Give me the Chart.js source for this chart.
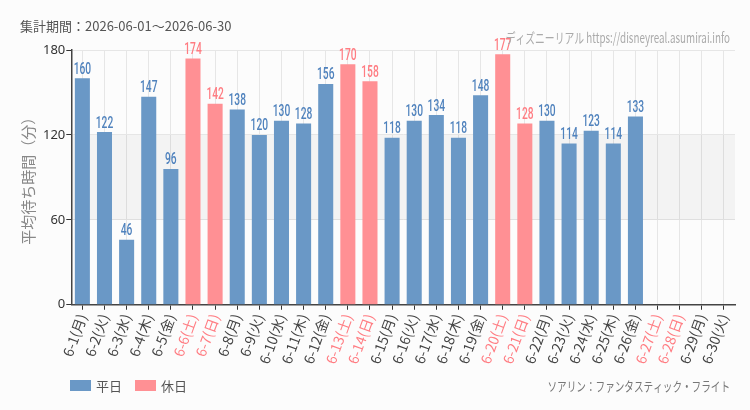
<!DOCTYPE html>
<html>
<head>
<meta charset="utf-8">
<script src="https://cdn.jsdelivr.net/npm/chart.js@4"></script>
<style>
  html, body { margin: 0; padding: 0; background: #fcfcfc; }
  #wrap { width: 750px; height: 410px; }
</style>
</head>
<body>
<div id="wrap"><canvas id="chart"></canvas></div>
<script>
// ラベルとデータ
const days = ['6-1(月)', '6-2(火)', '6-3(水)', '6-4(木)', '6-5(金)', '6-6(土)', '6-7(日)',
  '6-8(月)', '6-9(火)', '6-10(水)', '6-11(木)', '6-12(金)', '6-13(土)', '6-14(日)',
  '6-15(月)', '6-16(火)', '6-17(水)', '6-18(木)', '6-19(金)', '6-20(土)', '6-21(日)',
  '6-22(月)', '6-23(火)', '6-24(水)', '6-25(木)', '6-26(金)', '6-27(土)', '6-28(日)',
  '6-29(月)', '6-30(火)'];
const holidays = [5, 6, 12, 13, 19, 20, 26, 27]; // 土日のインデックス
const waitTimes = [160, 122, 46, 147, 96, 174, 142, 138, 120, 130, 128, 156, 170, 158,
  118, 130, 134, 118, 148, 177, 128, 130, 114, 123, 114, 133, null, null, null, null];
const yTicks = [0, 60, 120, 180];

const weekdayData = waitTimes.map((v, i) => holidays.includes(i) ? null : v);
const holidayData = waitTimes.map((v, i) => holidays.includes(i) ? v : null);

const BLUE = '#6a98c6';
const PINK = '#ff9094';
const LABEL_BLUE = '#4f82bd';
const LABEL_PINK = '#ff7c82';
const JP = '"Noto Sans CJK JP", "Noto Sans", sans-serif';

// 横に詰めた文字を書く（細いフォントの代わり）
function narrowText(ctx, text, x, y, sx) {
    ctx.save();
    ctx.translate(x, y);
    ctx.scale(sx, 1);
    ctx.fillText(text, 0, 0);
    ctx.restore();
}

// 60〜120の帯
const bandPlugin = {
    id: 'band',
    beforeDatasetsDraw(chart) {
        const { ctx, chartArea, scales } = chart;
        const top = scales.y.getPixelForValue(120);
        const bottom = scales.y.getPixelForValue(60);
        ctx.save();
        ctx.fillStyle = 'rgba(0,0,0,0.035)';
        ctx.fillRect(chartArea.left, top, chartArea.right - chartArea.left, bottom - top);
        ctx.restore();
    }
};

// 値ラベル・タイトル・凡例など
const textPlugin = {
    id: 'texts',
    afterDatasetsDraw(chart) {
        const { ctx } = chart;
        ctx.save();
        ctx.font = '500 16px "Roboto", sans-serif';
        ctx.textAlign = 'center';
        ctx.textBaseline = 'bottom';
        chart.data.datasets.forEach((ds, di) => {
            const meta = chart.getDatasetMeta(di);
            meta.data.forEach((bar, i) => {
                if (ds.data[i] == null) return;
                ctx.fillStyle = di === 0 ? LABEL_BLUE : LABEL_PINK;
                narrowText(ctx, String(ds.data[i]), bar.x, bar.y - 0.5, 0.64);
            });
        });
        ctx.restore();
    },
    afterDraw(chart) {
        const { ctx } = chart;
        ctx.save();
        // タイトル
        ctx.font = '13px ' + JP;
        ctx.fillStyle = '#555';
        ctx.textAlign = 'left';
        ctx.textBaseline = 'middle';
        ctx.fillText('集計期間：2026-06-01～2026-06-30', 20, 26);
        // ウォーターマーク
        ctx.font = '14px ' + JP;
        ctx.fillStyle = '#aaa';
        ctx.textAlign = 'right';
        narrowText(ctx, 'ディズニーリアル https://disneyreal.asumirai.info', 730, 38, 0.7);
        // 凡例
        ctx.textAlign = 'left';
        ctx.font = '13px ' + JP;
        let x = 70;
        chart.data.datasets.forEach(ds => {
            ctx.fillStyle = ds.backgroundColor;
            ctx.fillRect(x, 380, 21, 11);
            ctx.fillStyle = '#555';
            ctx.fillText(ds.label, x + 26, 386);
            x += 65;
        });
        // アトラクション名
        ctx.textAlign = 'right';
        ctx.fillStyle = '#777';
        narrowText(ctx, 'ソアリン：ファンタスティック・フライト', 730, 386, 0.74);
        ctx.restore();
    }
};

const ctx = document.getElementById('chart').getContext('2d');
new Chart(ctx, {
    type: 'bar',
    data: {
        labels: days,
        datasets: [
            { label: '平日', data: weekdayData, backgroundColor: BLUE },
            { label: '休日', data: holidayData, backgroundColor: PINK }
        ]
    },
    options: {
        responsive: true,
        maintainAspectRatio: false,
        animation: false,
        layout: { padding: { left: 19, right: 15, top: 50, bottom: 42 } },
        datasets: { bar: { barPercentage: 0.68, categoryPercentage: 1 } },
        plugins: {
            legend: { display: false },
            tooltip: { enabled: false }
        },
        scales: {
            x: {
                stacked: true,
                grid: { offset: false, color: '#e6e6e6', tickColor: '#333', tickLength: 5 },
                border: { color: '#444', width: 1.5 },
                ticks: {
                    autoSkip: false,
                    minRotation: 70,
                    maxRotation: 70,
                    padding: 2,
                    font: { family: JP, size: 14 },
                    color: ctx => holidays.includes(ctx.index) ? LABEL_PINK : '#444'
                }
            },
            y: {
                stacked: true,
                min: 0,
                max: 180,
                afterBuildTicks: axis => { axis.ticks = yTicks.map(v => ({ value: v })); },
                grid: { color: '#e6e6e6', tickColor: '#333', tickLength: 5 },
                border: { color: '#444', width: 1.5 },
                ticks: { font: { family: '"Noto Sans", sans-serif', size: 13 }, color: '#333', padding: 1 },
                title: {
                    display: true,
                    text: '平均待ち時間（分）',
                    font: { family: JP, size: 15 },
                    color: '#888',
                    padding: { top: 0, bottom: 5 }
                }
            }
        }
    },
    plugins: [bandPlugin, textPlugin]
});
</script>
</body>
</html>
